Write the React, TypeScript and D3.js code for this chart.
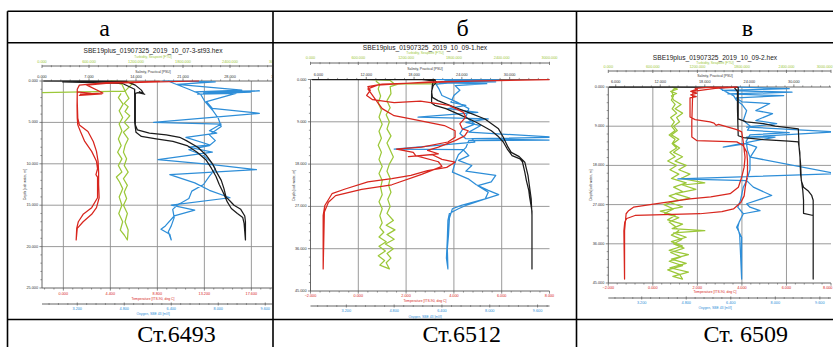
import React from "react";
import * as d3 from "d3";

type Pt = [number, number]; // [depth, m ; value]

// ---- Station 6493 (SBE19plus_01907325_2019_10_07-3-st93) : downcast then upcast ----
const temp6493: Pt[] = [
  [0.0, 12.7], [0.15, 8.0], [0.3, 4.0], [0.5, 2.2], [1.45, 3.7], [1.6, 1.6], [1.5, 3.4], [1.7, 1.8],
  [1.55, 3.6], [1.75, 1.5], [1.5, 2.6], [1.3, 1.3], [3.0, 1.28], [4.5, 1.3], [5.3, 1.35], [6.1, 1.6],
  [7.3, 2.0], [8.5, 2.65], [9.7, 3.1], [10.6, 3.2], [11.3, 3.05], [11.6, 3.2], [12.5, 3.2], [14.1, 3.2],
  [15.3, 2.65], [16.1, 1.85], [17.0, 1.4], [17.8, 1.25], [19.2, 1.2],
  [17.8, 1.3], [17.0, 1.85], [16.1, 2.65], [15.3, 3.1], [14.1, 3.35], [12.5, 3.3], [11.0, 3.3], [9.7, 3.25],
  [8.5, 3.1], [7.3, 2.8], [6.1, 2.3], [5.3, 1.5], [4.5, 1.35], [2.5, 1.3], [1.0, 1.3], [0.5, 1.5],
  [0.2, 4.0], [0.05, 9.0],
];
const sal6493: Pt[] = [
  [0.0, 0.2], [0.02, 6.0], [0.05, 12.5], [0.5, 13.9], [1.1, 14.8], [1.5, 15.1], [1.3, 14.5], [1.6, 15.3],
  [1.4, 14.3], [1.5, 13.9], [3.0, 13.9], [5.3, 13.9], [5.9, 14.2], [6.3, 16.0], [6.5, 18.5], [6.8, 20.5],
  [7.2, 21.5], [8.0, 23.2], [9.0, 24.5], [10.0, 25.4], [11.0, 26.0], [12.0, 26.7], [13.0, 27.1], [14.0, 27.4],
  [14.5, 28.0], [15.0, 28.6], [15.5, 29.6], [16.3, 30.2], [17.0, 30.3], [19.2, 30.3],
  [17.2, 30.1], [16.5, 29.9], [16.0, 29.1], [15.4, 28.2], [14.6, 27.6], [13.5, 27.0], [12.5, 26.4], [11.5, 25.9],
  [10.5, 25.2], [9.5, 24.4], [8.6, 23.1], [7.8, 21.6], [7.3, 19.5], [7.0, 17.0], [6.7, 14.8], [6.2, 14.0],
  [5.0, 13.8], [1.0, 13.8], [0.3, 12.0], [0.1, 3.0],
];
const turb6493: Pt[] = [
  [1.4, 0], [1.3, 520], [1.22, 1060], [0.15, 1170], [0.0, 880], [0.4, 1020], [1.6, 1080], [2.1, 1110],
  [2.7, 1050], [3.1, 1100], [3.7, 1060], [4.2, 1120], [5.0, 1050], [5.6, 1110], [6.2, 1040], [7.0, 1100],
  [7.8, 1060], [8.6, 1040], [9.4, 1080], [10.2, 1050], [11.0, 1100], [11.8, 1040], [12.6, 1090], [13.4, 1050],
  [14.2, 1080], [15.0, 1040], [16.0, 1090], [17.0, 1060], [18.0, 1100], [19.2, 1090],
  [18.6, 1050], [18.0, 1000], [17.0, 1030], [16.0, 980], [15.0, 1020], [14.0, 985], [13.0, 1030], [12.2, 990],
  [11.6, 950], [11.0, 1020], [10.2, 975], [9.4, 1020], [8.6, 965], [7.8, 1010], [7.0, 975], [6.0, 1020],
  [5.2, 985], [4.4, 1030], [3.6, 985], [2.8, 1035], [2.0, 975], [1.5, 1010],
];
const oxy6493: Pt[] = [
  [0.0, 6.1], [0.1, 7.9], [0.4, 6.6], [1.1, 8.8], [1.3, 7.2], [1.2, 9.4], [1.45, 7.5], [1.35, 9.1],
  [1.6, 7.3], [1.5, 8.6], [2.5, 7.6], [3.3, 7.8], [3.9, 9.4], [5.0, 5.8], [5.2, 8.1], [6.0, 7.7],
  [6.3, 7.95], [6.8, 6.9], [7.7, 7.7], [8.0, 7.0], [8.6, 7.8], [9.5, 5.95], [10.1, 7.8], [10.7, 9.3],
  [11.3, 6.35], [12.3, 7.2], [13.2, 7.7], [14.1, 8.4], [15.0, 6.4], [15.6, 7.2], [16.3, 6.5], [17.5, 6.2],
  [17.9, 6.05], [18.5, 6.35], [19.2, 6.4],
  [18.2, 6.3], [17.5, 6.4], [16.5, 6.5], [15.5, 6.45], [15.0, 6.6], [14.2, 7.0], [13.3, 7.1], [12.5, 7.5],
  [11.5, 7.7], [10.6, 7.9], [9.8, 7.75], [9.0, 7.5], [8.3, 7.0], [7.8, 7.7], [7.2, 7.9], [6.5, 7.7],
  [5.5, 8.1], [4.5, 8.0], [3.5, 7.8], [2.5, 7.55], [1.6, 7.4], [1.0, 7.0], [0.3, 6.5], [0.0, 6.3],
];

// ---- Station 6512 (SBE19plus_01907325_2019_10_09-1) ----
const temp6512: Pt[] = [
  [0.0, 8.3], [0.3, 5.0], [0.6, 3.2], [1.0, 1.0], [1.5, 0.4], [2.3, 0.5], [3.4, 0.35], [4.3, 0.6],
  [4.9, 1.5], [4.6, 2.6], [5.5, 3.8], [7.0, 4.4], [8.0, 4.5], [9.4, 4.25], [10.5, 4.35], [10.9, 4.6],
  [12.0, 4.45], [13.0, 4.05], [14.4, 3.35], [15.1, 2.9], [15.8, 3.35], [16.4, 2.1], [16.0, 3.1], [17.0, 3.5],
  [17.6, 4.05], [18.7, 3.7], [19.4, 2.9], [20.4, 2.2], [21.1, 1.4], [21.8, 0.4], [23.3, -0.55], [24.3, -1.1],
  [26.8, -1.4], [28.9, -1.47], [40.3, -1.47],
  [28.2, -1.42], [26.1, -1.25], [24.7, -0.95], [23.4, 0.14], [22.4, 1.4], [20.2, 2.65], [18.5, 3.5], [17.5, 3.35],
  [16.2, 2.4], [15.5, 2.3], [14.8, 1.6], [14.4, 2.65], [13.3, 3.75], [12.3, 4.05], [10.9, 4.05], [9.8, 3.6],
  [8.4, 2.2], [7.7, 1.5], [6.2, 1.0], [4.1, 0.7], [2.0, 0.4], [1.2, 0.8], [0.5, 3.0], [0.0, 8.3],
];
const sal6512: Pt[] = [
  [0.0, 5.2], [0.02, 12.0], [0.05, 20.6], [0.6, 20.8], [1.3, 20.4], [2.5, 20.2], [3.8, 20.3], [4.5, 21.0],
  [5.9, 23.1], [7.0, 24.8], [8.4, 26.9], [10.5, 28.6], [12.3, 29.2], [14.4, 29.8], [15.5, 30.2], [16.4, 31.2],
  [17.6, 31.9], [20.4, 32.3], [25.4, 32.7], [28.9, 32.8], [40.3, 32.8],
  [28.0, 32.8], [25.0, 32.5], [23.6, 32.4], [21.5, 32.1], [19.7, 31.9], [17.5, 31.6], [16.9, 31.3], [16.2, 30.3],
  [14.8, 29.7], [13.3, 29.2], [12.0, 28.5], [10.9, 27.7], [9.1, 25.8], [7.3, 23.5], [6.2, 22.0], [5.5, 20.6],
  [5.0, 20.2], [3.0, 20.2], [1.0, 20.3], [0.3, 20.5], [0.05, 19.0],
];
const turb6512: Pt[] = [
  [0.0, 700], [0.2, 1000], [0.9, 1050], [0.95, 1600], [1.0, 1100], [1.5, 1000], [3.0, 1010], [4.5, 960],
  [6.0, 1000], [7.5, 950], [9.0, 990], [10.5, 960], [12.0, 1010], [13.5, 960], [15.0, 1000], [16.5, 1040],
  [18.0, 990], [19.5, 960], [21.0, 1000], [22.5, 980], [24.0, 1010], [25.5, 970], [27.0, 1000], [28.5, 960],
  [30.0, 1040], [31.0, 950], [32.0, 1060], [33.0, 960], [34.0, 1050], [35.0, 940], [36.0, 1040], [37.0, 960],
  [38.0, 1010], [39.0, 950], [40.3, 990],
  [39.5, 870], [38.5, 930], [37.5, 850], [36.5, 940], [35.5, 860], [34.5, 950], [33.5, 860], [32.5, 920],
  [31.5, 870], [30.5, 900], [29.0, 870], [27.5, 900], [26.0, 860], [24.5, 900], [23.0, 880], [21.5, 900],
  [20.0, 860], [18.5, 900], [17.0, 860], [15.5, 890], [14.0, 850], [12.5, 890], [11.0, 860], [9.5, 900],
  [8.0, 860], [6.5, 890], [5.0, 850], [3.5, 880], [2.0, 850], [1.0, 870], [0.3, 820],
];
const oxy6512: Pt[] = [
  [0.0, 6.2], [0.1, 8.3], [0.3, 6.5], [0.5, 8.2], [0.7, 6.3], [0.9, 7.9], [1.3, 6.84], [2.3, 7.0],
  [3.4, 6.8], [4.8, 6.7], [5.5, 7.2], [6.2, 6.6], [7.0, 7.6], [8.0, 5.6], [8.4, 7.95], [9.1, 7.2],
  [9.8, 7.7], [11.2, 7.3], [12.3, 10.3], [12.6, 7.4], [13.3, 7.5], [14.8, 4.8], [14.9, 7.1], [16.2, 7.3],
  [17.2, 6.95], [18.3, 7.4], [19.5, 7.2], [20.4, 8.2], [21.8, 8.05], [22.6, 7.6], [24.0, 7.95], [25.4, 7.85],
  [26.8, 7.05], [27.5, 6.75], [29.5, 6.65], [33.0, 6.62], [36.0, 6.58], [40.3, 6.6],
  [38.0, 6.55], [34.0, 6.58], [30.0, 6.6], [28.5, 6.65], [27.5, 6.95], [26.8, 7.2], [25.5, 7.8], [24.5, 8.3],
  [23.6, 7.95], [22.4, 7.55], [21.2, 7.3], [19.7, 6.75], [17.5, 6.85], [16.0, 6.95], [14.5, 7.2], [13.0, 7.3],
  [12.9, 10.3], [12.6, 7.2], [11.5, 7.0], [10.5, 7.1], [9.5, 7.5], [8.0, 7.2], [6.2, 7.3], [4.8, 6.9],
  [3.4, 6.4], [2.0, 6.3], [1.0, 6.2], [0.3, 7.5], [0.0, 6.2],
];

// ---- Station 6509 (SBE19plus_01907325_2019_10_09-2) ----
const temp6509: Pt[] = [
  [0.0, 3.8], [0.1, 2.5], [0.3, 1.9], [0.5, 2.0], [1.0, 1.7], [1.4, 1.98], [1.8, 1.7], [2.2, 1.95],
  [2.5, 1.67], [4.0, 1.67], [6.9, 1.67], [7.5, 1.9], [8.0, 2.57], [8.3, 2.75], [8.8, 2.84], [8.6, 2.95],
  [9.8, 3.77], [10.3, 3.99], [13.0, 4.07], [16.1, 4.14], [18.4, 4.1], [20.7, 3.99], [23.0, 3.84], [24.5, 3.47],
  [25.2, 2.6], [25.7, 1.67], [26.8, 0.18], [27.6, -0.87], [28.4, -1.09], [29.1, -1.2], [33.0, -1.27], [44.1, -1.27],
  [33.0, -1.3], [31.0, -1.26], [30.2, -1.17], [29.5, -0.8], [29.3, 0.5], [29.1, 2.12], [28.6, 3.1], [28.0, 3.62],
  [26.5, 3.95], [25.0, 4.1], [23.0, 4.15], [20.0, 4.25], [17.0, 4.25], [15.0, 4.22], [13.4, 4.05], [12.6, 3.77],
  [12.3, 1.97], [11.5, 1.75], [8.0, 1.75], [3.0, 1.78], [1.0, 1.8], [0.3, 2.8], [0.05, 3.8],
];
const sal6509: Pt[] = [
  [0.0, 5.1], [0.05, 14.0], [0.1, 22.5], [2.0, 22.5], [5.0, 22.5], [7.3, 22.5], [8.0, 23.6], [8.4, 25.9],
  [9.0, 27.5], [9.4, 29.5], [9.6, 30.6], [13.8, 30.7], [17.6, 30.9], [21.5, 31.0], [23.0, 31.3], [23.8, 31.9],
  [24.9, 32.4], [26.0, 32.6], [28.4, 32.6], [44.1, 32.6],
  [29.5, 32.6], [29.0, 31.3], [26.0, 31.3], [23.8, 31.2], [20.0, 30.9], [15.0, 30.8], [12.6, 30.6], [12.4, 29.3],
  [12.1, 25.9], [11.6, 23.2], [11.2, 22.5], [5.0, 22.4], [1.0, 22.4], [0.2, 22.0],
];
const turb6509: Pt[] = [
  [0.0, 860], [0.5, 930], [1.0, 840], [1.5, 920], [2.0, 850], [3.0, 880], [4.0, 980], [5.0, 900],
  [6.0, 1000], [7.0, 920], [8.0, 960], [9.0, 880], [10.0, 930], [11.0, 850], [12.0, 950], [13.0, 870],
  [14.0, 960], [15.0, 880], [16.0, 1000], [17.0, 900], [18.0, 1050], [19.0, 950], [20.0, 1100], [21.0, 980],
  [22.0, 1300], [22.5, 1000], [23.5, 1180], [24.5, 900], [25.5, 1100], [26.5, 820], [27.5, 1000], [28.5, 700],
  [29.5, 900], [30.5, 800], [31.5, 1000], [32.5, 860], [33.0, 1300], [33.5, 880], [34.5, 1050], [35.5, 850],
  [36.5, 1000], [37.5, 820], [38.5, 1080], [39.5, 850], [40.5, 1050], [41.5, 830], [42.5, 1080], [43.5, 870],
  [44.1, 1000],
  [43.0, 960], [42.0, 800], [41.0, 1000], [40.0, 820], [39.0, 980], [38.0, 840], [37.0, 1020], [36.0, 880],
  [35.0, 990], [34.0, 850], [33.0, 950], [32.0, 900], [31.0, 820], [30.0, 950], [29.0, 760], [28.0, 880],
  [27.0, 750], [26.0, 950], [25.0, 820], [24.0, 1000], [23.0, 880], [22.0, 1050], [21.0, 850], [20.0, 950],
  [19.0, 830], [18.0, 920], [17.0, 800], [16.0, 900], [15.0, 830], [14.0, 920], [13.0, 860], [12.0, 900],
  [11.0, 820], [10.0, 900], [9.0, 850], [8.0, 890], [7.0, 840], [6.0, 920], [5.0, 860], [4.0, 900],
  [3.0, 850], [2.0, 880], [1.0, 850], [0.2, 900],
];
const oxy6509: Pt[] = [
  [0.0, 6.5], [0.4, 8.5], [0.8, 6.1], [1.2, 8.6], [1.6, 6.3], [2.0, 8.3], [2.5, 6.6], [3.4, 6.8],
  [3.8, 7.8], [5.4, 7.3], [6.1, 7.9], [7.3, 7.45], [7.7, 7.3], [8.4, 8.05], [9.2, 6.97], [10.3, 10.2],
  [11.5, 6.97], [11.5, 7.99], [13.8, 6.13], [13.0, 6.97], [13.8, 7.33], [16.1, 7.1], [19.9, 10.2], [21.1, 4.5],
  [21.5, 6.97], [23.0, 7.21], [24.9, 7.87], [26.8, 6.97], [27.6, 7.09], [28.4, 7.45], [29.1, 6.85], [32.2, 6.61],
  [34.5, 6.79], [44.1, 6.79],
  [34.0, 6.72], [32.2, 6.65], [31.0, 6.7], [29.1, 6.85], [27.6, 6.65], [26.0, 6.75], [24.5, 6.8], [23.0, 6.85],
  [21.5, 6.97], [19.0, 7.09], [16.1, 7.09], [14.5, 7.0], [12.5, 6.95], [11.0, 7.09], [10.5, 8.5], [9.9, 7.0],
  [9.0, 7.1], [7.7, 6.85], [5.4, 6.97], [4.0, 6.8], [3.0, 6.6], [2.0, 6.5], [1.0, 6.2], [0.3, 6.0], [0.0, 6.3],
];

// ---- Labels and axis ranges ----
const headerLetters = ["а", "б", "в"];
const stationNames = ["Ст.6493", "Ст.6512", "Ст. 6509"];
const fileNames = [
  "SBE19plus_01907325_2019_10_07-3-st93.hex",
  "SBE19plus_01907325_2019_10_09-1.hex",
  "SBE19plus_01907325_2019_10_09-2.hex",
];
const tempDomains: [number, number][] = [[-2, 20], [-2, 8], [-2, 8]];
const tempSteps = [4.4, 2, 2];
const salDomains: [number, number][] = [[0, 35], [5, 35], [5, 35]];
const salSteps = [7, 6, 6];
const depthDomains: [number, number][] = [[0, 25], [0, 45], [0, 45]];
const depthSteps = [5, 9, 9];
const oxyDomain: [number, number] = [2, 10];
const oxyStep = 1.6;
const turbDomain: [number, number] = [0, 3000];
const turbStep = 600;

const temps = [temp6493, temp6512, temp6509];
const sals = [sal6493, sal6512, sal6509];
const turbs = [turb6493, turb6512, turb6509];
const oxys = [oxy6493, oxy6512, oxy6509];

// ---- Page geometry ----
const W = 833;
const H = 347;
const tableLeft = 7.5;
const tableTop = 11.3;
const headerBottom = 42.7;
const footerTop = 319.5;
const colDividers = [273, 576.5];

const layouts = [
  { cx0: 8.5, cx1: 272.2, left: 42, right: 277, top: 81, bottom: 288, tx: 153,
    titleY: 50, turbTitleY: 57, turbLabelY: 62, turbAxisY: 66, salTitleY: 71.5, salLabelY: 77,
    tempLabelY: 294, tempTitleY: 299, oxyAxisY: 304, oxyLabelY: 309, oxyTitleY: 314,
    letterX: 104.5, stationX: 176.5 },
  { cx0: 274, cx1: 575.5, left: 310.5, right: 549.5, top: 79.5, bottom: 291, tx: 425,
    titleY: 47.8, turbTitleY: 53, turbLabelY: 58, turbAxisY: 63, salTitleY: 69, salLabelY: 74.5,
    tempLabelY: 296, tempTitleY: 301, oxyAxisY: 306, oxyLabelY: 311, oxyTitleY: 316.5,
    letterX: 462.7, stationX: 461.7 },
  { cx0: 577.5, cx1: 833, left: 608.3, right: 831, top: 87, bottom: 283, tx: 715,
    titleY: 57, turbTitleY: 62.5, turbLabelY: 67, turbAxisY: 71, salTitleY: 76, salLabelY: 81.5,
    tempLabelY: 287.5, tempTitleY: 292, oxyAxisY: 298, oxyLabelY: 303, oxyTitleY: 308,
    letterX: 747.5, stationX: 745.8 },
];

const RED = "#d8261e";
const BLACK = "#1c1c1c";
const GREEN = "#9cc83a";
const BLUE = "#2e8ed8";
const GRID = "#8e8e8e";
const AXIS = "#555";
const SANS = "'Liberation Sans', Arial, sans-serif";
const SERIF = "'Liberation Serif', 'Times New Roman', serif";
const TICK_FS = 3.8;

const fmt = d3.format(".3f");

function stepTicks(lo: number, hi: number, step: number): number[] {
  const out: number[] = [];
  const k0 = Math.ceil(lo / step - 1e-6);
  for (let k = k0; k * step <= hi + 1e-6; k++) out.push(+(k * step).toFixed(6));
  return out;
}
function minorTicks(lo: number, hi: number, step: number): number[] {
  const majors = stepTicks(lo, hi, step);
  return stepTicks(lo, hi, step / 5).filter((v) => !majors.some((m) => Math.abs(m - v) < 1e-6));
}

// Tick label that stays inside the drawing when it sits at the page's right edge
function TickLabel({ x, y, text, fill }: { x: number; y: number; text: string; fill: string }) {
  const half = (text.length * 0.53 * TICK_FS) / 2;
  const overflow = x + half > W - 0.5;
  return (
    <text
      x={overflow ? W - 0.5 : x}
      y={y}
      fontSize={TICK_FS}
      fontFamily={SANS}
      fill={fill}
      textAnchor={overflow ? "end" : "middle"}
      dominantBaseline="central"
    >
      {text}
    </text>
  );
}

function Panel({ i }: { i: number }) {
  const L = layouts[i];
  const y = d3.scaleLinear().domain(depthDomains[i]).range([L.top, L.bottom]);
  const xT = d3.scaleLinear().domain(tempDomains[i]).range([L.left, L.right]);
  const xS = d3.scaleLinear().domain(salDomains[i]).range([L.left, L.right]);
  const xO = d3.scaleLinear().domain(oxyDomain).range([L.left, L.right]);
  const xF = d3.scaleLinear().domain(turbDomain).range([L.left, L.right]);

  const path = (data: Pt[], xs: d3.ScaleLinear<number, number>) =>
    d3.line<Pt>().x((d) => xs(d[1])).y((d) => y(d[0]))(data) || "";

  const tempMaj = stepTicks(tempDomains[i][0], tempDomains[i][1], tempSteps[i]);
  const depthMaj = stepTicks(depthDomains[i][0], depthDomains[i][1], depthSteps[i]);

  const hAxis = (
    xs: d3.ScaleLinear<number, number>,
    dom: [number, number],
    step: number,
    ay: number,
    up: number,
    down: number,
    key: string
  ) => (
    <g key={key}>
      <line x1={L.left} x2={L.right} y1={ay} y2={ay} stroke={AXIS} strokeWidth={0.9} />
      {stepTicks(dom[0], dom[1], step).map((v) => (
        <line key={"M" + v} x1={xs(v)} x2={xs(v)} y1={ay - up} y2={ay + down} stroke={AXIS} strokeWidth={0.7} />
      ))}
      {minorTicks(dom[0], dom[1], step).map((v) => (
        <line key={"m" + v} x1={xs(v)} x2={xs(v)} y1={ay - up * 0.6} y2={ay + down * 0.6} stroke={AXIS} strokeWidth={0.6} />
      ))}
    </g>
  );

  const clipCell = `cell-${i}`;
  const clipPlot = `plot-${i}`;
  const midY = (L.top + L.bottom) / 2;

  return (
    <g clipPath={`url(#${clipCell})`}>
      <defs>
        <clipPath id={clipCell}>
          <rect x={L.cx0} y={headerBottom + 1} width={L.cx1 - L.cx0} height={footerTop - headerBottom - 2} />
        </clipPath>
        <clipPath id={clipPlot}>
          <rect x={L.left} y={L.top - 1.5} width={L.right - L.left} height={L.bottom - L.top + 1.5} />
        </clipPath>
      </defs>

      {/* chart headings */}
      <text x={L.tx} y={L.titleY} fontSize={6.6} fontFamily={SANS} fill="#222" textAnchor="middle" dominantBaseline="central">
        {fileNames[i]}
      </text>
      <text x={L.tx} y={L.turbTitleY} fontSize={3.4} fontFamily={SANS} fill={GREEN} textAnchor="middle" dominantBaseline="central">
        Turbidity, Seapoint [FTU]
      </text>
      <text x={L.tx} y={L.salTitleY} fontSize={3.4} fontFamily={SANS} fill="#333" textAnchor="middle" dominantBaseline="central">
        Salinity, Practical [PSU]
      </text>
      <text x={L.tx} y={L.tempTitleY} fontSize={3.4} fontFamily={SANS} fill={RED} textAnchor="middle" dominantBaseline="central">
        Temperature [ITS-90, deg C]
      </text>
      <text x={L.tx} y={L.oxyTitleY} fontSize={3.4} fontFamily={SANS} fill={BLUE} textAnchor="middle" dominantBaseline="central">
        Oxygen, SBE 43 [ml/l]
      </text>
      <text
        transform={`translate(${L.left - 17},${midY}) rotate(-90)`}
        fontSize={3.4}
        fontFamily={SANS}
        fill="#333"
        textAnchor="middle"
        dominantBaseline="central"
      >
        Depth [salt water, m]
      </text>

      {/* grid */}
      {tempMaj
        .filter((v) => v > tempDomains[i][0] + 1e-6 && v < tempDomains[i][1] - 1e-6)
        .map((v) => (
          <line key={"gv" + v} x1={xT(v)} x2={xT(v)} y1={L.top} y2={L.bottom} stroke={GRID} strokeWidth={0.9} />
        ))}
      {depthMaj
        .filter((v) => v > depthDomains[i][0] && v < depthDomains[i][1])
        .map((v) => (
          <line key={"gh" + v} x1={L.left} x2={L.right} y1={y(v)} y2={y(v)} stroke={GRID} strokeWidth={0.9} />
        ))}

      {/* axes */}
      {hAxis(xF, turbDomain, turbStep, L.turbAxisY, 1.2, 2, "turb")}
      {hAxis(xS, salDomains[i], salSteps[i], L.top, 2.6, 0, "sal")}
      {hAxis(xT, tempDomains[i], tempSteps[i], L.bottom, 0, 2.6, "temp")}
      {hAxis(xO, oxyDomain, oxyStep, L.oxyAxisY, 1.5, 1.5, "oxy")}
      <line x1={L.left} x2={L.left} y1={L.top} y2={L.bottom} stroke={AXIS} strokeWidth={0.9} />
      {depthMaj.map((v) => (
        <line key={"dM" + v} x1={L.left - 2.6} x2={L.left} y1={y(v)} y2={y(v)} stroke={AXIS} strokeWidth={0.7} />
      ))}
      {minorTicks(depthDomains[i][0], depthDomains[i][1], depthSteps[i]).map((v) => (
        <line key={"dm" + v} x1={L.left - 1.6} x2={L.left} y1={y(v)} y2={y(v)} stroke={AXIS} strokeWidth={0.6} />
      ))}

      {/* tick labels */}
      {stepTicks(turbDomain[0], turbDomain[1], turbStep).map((v) => (
        <TickLabel key={"lf" + v} x={xF(v)} y={L.turbLabelY} text={fmt(v)} fill={GREEN} />
      ))}
      {stepTicks(salDomains[i][0], salDomains[i][1], salSteps[i]).map((v) => (
        <TickLabel key={"ls" + v} x={xS(v)} y={L.salLabelY} text={fmt(v)} fill="#333" />
      ))}
      {tempMaj.map((v) => (
        <TickLabel key={"lt" + v} x={xT(v)} y={L.tempLabelY} text={fmt(v)} fill={RED} />
      ))}
      {stepTicks(oxyDomain[0], oxyDomain[1], oxyStep).map((v) => (
        <TickLabel key={"lo" + v} x={xO(v)} y={L.oxyLabelY} text={fmt(v)} fill={BLUE} />
      ))}
      {depthMaj.map((v) => (
        <text key={"ld" + v} x={L.left - 4} y={y(v)} fontSize={TICK_FS} fontFamily={SANS} fill="#333" textAnchor="end" dominantBaseline="central">
          {fmt(v)}
        </text>
      ))}

      {/* profiles */}
      <g clipPath={`url(#${clipPlot})`} fill="none" strokeWidth={1.25} strokeLinejoin="round">
        <path d={path(turbs[i], xF)} stroke={GREEN} />
        <path d={path(oxys[i], xO)} stroke={BLUE} />
        <path d={path(sals[i], xS)} stroke={BLACK} />
        <path d={path(temps[i], xT)} stroke={RED} />
      </g>
    </g>
  );
}

export default function App() {
  const lw = 1.6;
  return (
    <svg
      width={W}
      height={H}
      viewBox={`0 0 ${W} ${H}`}
      style={{ position: "absolute", left: 0, top: 0, background: "#fff" }}
    >
      <rect x={0} y={0} width={W} height={H} fill="#fff" />
      {[0, 1, 2].map((i) => (
        <Panel key={i} i={i} />
      ))}

      {/* table frame */}
      <g stroke="#000" strokeWidth={lw}>
        <line x1={tableLeft} x2={W} y1={tableTop} y2={tableTop} />
        <line x1={tableLeft} x2={W} y1={headerBottom} y2={headerBottom} />
        <line x1={tableLeft} x2={W} y1={footerTop} y2={footerTop} />
        <line x1={tableLeft} x2={tableLeft} y1={tableTop} y2={H} />
        {colDividers.map((x) => (
          <line key={x} x1={x} x2={x} y1={tableTop} y2={H} />
        ))}
      </g>

      {headerLetters.map((t, i) => (
        <text key={"h" + i} x={layouts[i].letterX} y={36} fontSize={24} fontFamily={SERIF} fill="#000" textAnchor="middle">
          {t}
        </text>
      ))}
      {stationNames.map((t, i) => (
        <text key={"s" + i} x={layouts[i].stationX} y={342} fontSize={24} fontFamily={SERIF} fill="#000" textAnchor="middle">
          {t}
        </text>
      ))}
    </svg>
  );
}
